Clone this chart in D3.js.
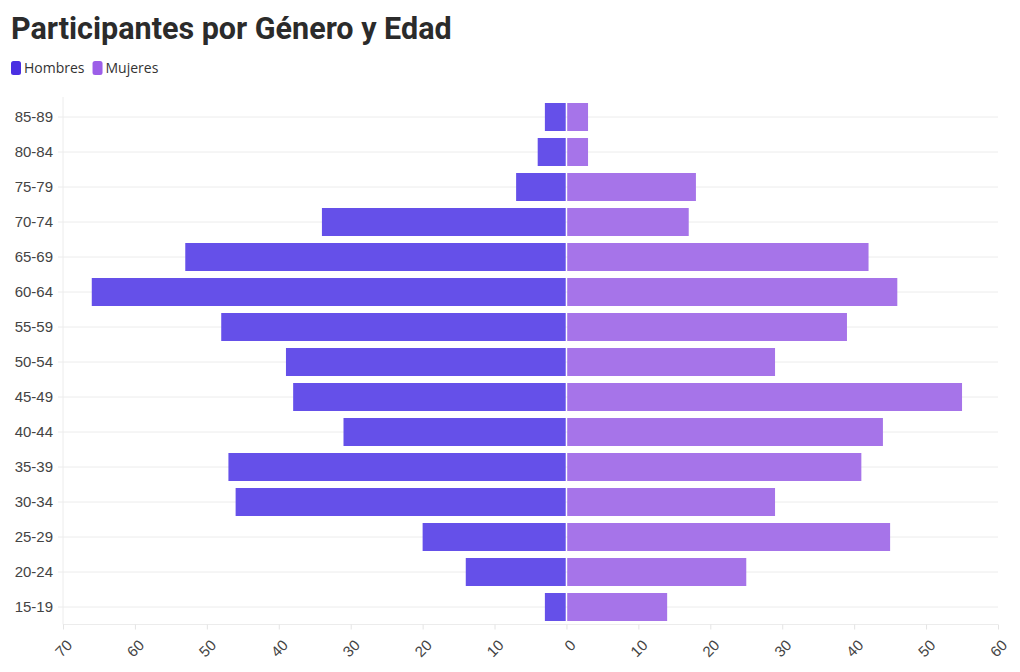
<!DOCTYPE html>
<html><head><meta charset="utf-8">
<script src="https://cdn.jsdelivr.net/npm/d3@7"></script>
<style>
body{margin:0;background:#fff;}
svg{display:block;font-family:"Open Sans",Roboto,sans-serif;}
</style></head>
<body><svg id="c" width="1020" height="672"></svg>
<script>
const ageGroups = ["85-89","80-84","75-79","70-74","65-69","60-64","55-59","50-54","45-49","40-44","35-39","30-34","25-29","20-24","15-19"];
const hombres = [3,4,7,34,53,66,48,39,38,31,47,46,20,14,3];
const mujeres = [3,3,18,17,42,46,39,29,55,44,41,29,45,25,14];
const xTicks = [-70,-60,-50,-40,-30,-20,-10,0,10,20,30,40,50,60];
const seriesNames = ["Hombres","Mujeres"];
const colors = ["#6550e9","#a674e9"];
const legendColors = ["#4a2fe2","#9c5ee8"];

const svg = d3.select("#c");
const m = {left:63, right:998, top:99.5, bottom:624.5};
const x = d3.scaleLinear().domain([-70,60]).range([m.left,m.right]);
const y = d3.scaleBand().domain(ageGroups).range([m.top,m.bottom]).paddingInner(0.2).paddingOuter(0.1);

svg.append("text").attr("x",11).attr("y",39).attr("font-size",30.5).attr("font-weight",700)
  .attr("font-family","Roboto,sans-serif")
  .attr("fill","#2b2b2b").text("Participantes por Género y Edad");

// legend
const lg = svg.append("g");
let lx = 11;
seriesNames.forEach((n,i)=>{
  lg.append("rect").attr("x",lx).attr("y",61).attr("width",10).attr("height",14).attr("rx",2.5).attr("fill",legendColors[i]);
  const t = lg.append("text").attr("x",lx+13).attr("y",73).attr("font-size",14).attr("fill","#333").text(n);
  lx += 13 + t.node().getComputedTextLength() + 8;
});

// gridlines
svg.append("g").selectAll("line").data(ageGroups).join("line")
  .attr("x1",m.left).attr("x2",m.right)
  .attr("y1",d=>y(d)+y.bandwidth()/2).attr("y2",d=>y(d)+y.bandwidth()/2)
  .attr("stroke","#ececec").attr("stroke-width",1);
svg.append("line").attr("x1",m.left).attr("x2",m.left).attr("y1",97).attr("y2",m.bottom).attr("stroke","#ececec");
svg.append("line").attr("x1",m.left).attr("x2",m.right).attr("y1",m.bottom).attr("y2",m.bottom).attr("stroke","#ececec");

// bars
const rowsH = ageGroups.map((a,i)=>({a,v:hombres[i]}));
const rowsM = ageGroups.map((a,i)=>({a,v:mujeres[i]}));
svg.append("g").selectAll("rect").data(rowsH).join("rect")
  .attr("x",d=>x(-d.v)).attr("width",d=>x(0)-x(-d.v)-0.75)
  .attr("y",d=>y(d.a)).attr("height",y.bandwidth()).attr("fill",colors[0]);
svg.append("g").selectAll("rect").data(rowsM).join("rect")
  .attr("x",x(0)+0.75).attr("width",d=>x(d.v)-x(0)-0.75)
  .attr("y",d=>y(d.a)).attr("height",y.bandwidth()).attr("fill",colors[1]);

// y axis labels
const ya = svg.append("g").attr("transform",`translate(${m.left},0)`)
  .call(d3.axisLeft(y).tickSize(5).tickPadding(5));
ya.select(".domain").remove();
ya.selectAll("line").attr("stroke","#ececec");
ya.selectAll("text").attr("font-size",15).attr("fill","#444");

// x axis
const xa = svg.append("g").attr("transform",`translate(0,${m.bottom})`)
  .call(d3.axisBottom(x).tickValues(xTicks).tickFormat(d=>Math.abs(d)).tickSize(5).tickPadding(0));
xa.select(".domain").remove();
xa.selectAll("line").attr("stroke","#e4e4e4");
xa.selectAll("text").attr("font-size",15).attr("fill","#444")
  .attr("text-anchor","end").attr("x",0).attr("y",0).attr("dy","0.35em")
  .attr("transform","translate(6,18) rotate(-45)");
</script></body></html>
